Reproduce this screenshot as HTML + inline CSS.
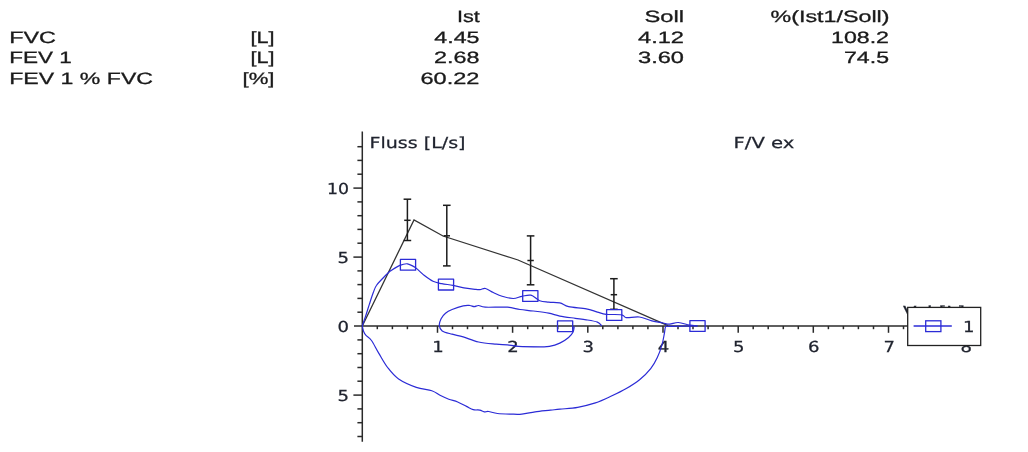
<!DOCTYPE html>
<html><head><meta charset="utf-8"><title>F/V ex</title>
<style>
html,body{margin:0;padding:0;background:#fff;}
body{width:1028px;height:452px;position:relative;overflow:hidden;font-family:"Liberation Sans",sans-serif;}
</style></head><body>
<svg width="1028" height="452" viewBox="0 0 1028 452" style="position:absolute;left:0;top:0;filter:blur(0.35px)">
<rect x="0" y="0" width="1028" height="452" fill="#fff"/>
<text x="9.2" y="42.8" font-family="Liberation Sans, Arial, sans-serif" font-size="16.4" text-rendering="geometricPrecision" fill="#1a1a1a" stroke="#1a1a1a" stroke-width="0.3" text-anchor="start" textLength="46.8" lengthAdjust="spacingAndGlyphs">FVC</text>
<text x="9.2" y="63.2" font-family="Liberation Sans, Arial, sans-serif" font-size="16.4" text-rendering="geometricPrecision" fill="#1a1a1a" stroke="#1a1a1a" stroke-width="0.3" text-anchor="start" textLength="62.6" lengthAdjust="spacingAndGlyphs">FEV 1</text>
<text x="9.2" y="83.6" font-family="Liberation Sans, Arial, sans-serif" font-size="16.4" text-rendering="geometricPrecision" fill="#1a1a1a" stroke="#1a1a1a" stroke-width="0.3" text-anchor="start" textLength="143.8" lengthAdjust="spacingAndGlyphs">FEV 1 % FVC</text>
<text x="274.5" y="42.8" font-family="Liberation Sans, Arial, sans-serif" font-size="16.4" text-rendering="geometricPrecision" fill="#1a1a1a" stroke="#1a1a1a" stroke-width="0.3" text-anchor="end" textLength="24" lengthAdjust="spacingAndGlyphs">[L]</text>
<text x="274.5" y="63.2" font-family="Liberation Sans, Arial, sans-serif" font-size="16.4" text-rendering="geometricPrecision" fill="#1a1a1a" stroke="#1a1a1a" stroke-width="0.3" text-anchor="end" textLength="24" lengthAdjust="spacingAndGlyphs">[L]</text>
<text x="274.5" y="83.6" font-family="Liberation Sans, Arial, sans-serif" font-size="16.4" text-rendering="geometricPrecision" fill="#1a1a1a" stroke="#1a1a1a" stroke-width="0.3" text-anchor="end" textLength="32" lengthAdjust="spacingAndGlyphs">[%]</text>
<text x="479.8" y="22.2" font-family="Liberation Sans, Arial, sans-serif" font-size="16.4" text-rendering="geometricPrecision" fill="#1a1a1a" stroke="#1a1a1a" stroke-width="0.3" text-anchor="end" textLength="22.8" lengthAdjust="spacingAndGlyphs">Ist</text>
<text x="479.5" y="42.8" font-family="Liberation Sans, Arial, sans-serif" font-size="16.4" text-rendering="geometricPrecision" fill="#1a1a1a" stroke="#1a1a1a" stroke-width="0.3" text-anchor="end" textLength="45.2" lengthAdjust="spacingAndGlyphs">4.45</text>
<text x="479.5" y="63.2" font-family="Liberation Sans, Arial, sans-serif" font-size="16.4" text-rendering="geometricPrecision" fill="#1a1a1a" stroke="#1a1a1a" stroke-width="0.3" text-anchor="end" textLength="45.4" lengthAdjust="spacingAndGlyphs">2.68</text>
<text x="479.5" y="83.6" font-family="Liberation Sans, Arial, sans-serif" font-size="16.4" text-rendering="geometricPrecision" fill="#1a1a1a" stroke="#1a1a1a" stroke-width="0.3" text-anchor="end" textLength="59" lengthAdjust="spacingAndGlyphs">60.22</text>
<text x="684" y="22.2" font-family="Liberation Sans, Arial, sans-serif" font-size="16.4" text-rendering="geometricPrecision" fill="#1a1a1a" stroke="#1a1a1a" stroke-width="0.3" text-anchor="end" textLength="39.5" lengthAdjust="spacingAndGlyphs">Soll</text>
<text x="684" y="42.8" font-family="Liberation Sans, Arial, sans-serif" font-size="16.4" text-rendering="geometricPrecision" fill="#1a1a1a" stroke="#1a1a1a" stroke-width="0.3" text-anchor="end" textLength="46" lengthAdjust="spacingAndGlyphs">4.12</text>
<text x="684" y="63.2" font-family="Liberation Sans, Arial, sans-serif" font-size="16.4" text-rendering="geometricPrecision" fill="#1a1a1a" stroke="#1a1a1a" stroke-width="0.3" text-anchor="end" textLength="46" lengthAdjust="spacingAndGlyphs">3.60</text>
<text x="889.5" y="22.2" font-family="Liberation Sans, Arial, sans-serif" font-size="16.4" text-rendering="geometricPrecision" fill="#1a1a1a" stroke="#1a1a1a" stroke-width="0.3" text-anchor="end" textLength="119" lengthAdjust="spacingAndGlyphs">%(Ist1/Soll)</text>
<text x="889" y="42.8" font-family="Liberation Sans, Arial, sans-serif" font-size="16.4" text-rendering="geometricPrecision" fill="#1a1a1a" stroke="#1a1a1a" stroke-width="0.3" text-anchor="end" textLength="58" lengthAdjust="spacingAndGlyphs">108.2</text>
<text x="889" y="63.2" font-family="Liberation Sans, Arial, sans-serif" font-size="16.4" text-rendering="geometricPrecision" fill="#1a1a1a" stroke="#1a1a1a" stroke-width="0.3" text-anchor="end" textLength="45" lengthAdjust="spacingAndGlyphs">74.5</text>
<g stroke="#2a2a2a" stroke-width="1.5" fill="none">
<line x1="362.3" y1="131.5" x2="362.3" y2="441.7"/>
<line x1="354" y1="326.05" x2="908" y2="326.05"/>
<line x1="357.4" y1="436.5" x2="362.3" y2="436.5"/>
<line x1="357.4" y1="422.7" x2="362.3" y2="422.7"/>
<line x1="357.4" y1="408.9" x2="362.3" y2="408.9"/>
<line x1="353.4" y1="395.1" x2="362.3" y2="395.1"/>
<line x1="357.4" y1="381.2" x2="362.3" y2="381.2"/>
<line x1="357.4" y1="367.5" x2="362.3" y2="367.5"/>
<line x1="357.4" y1="353.7" x2="362.3" y2="353.7"/>
<line x1="357.4" y1="339.9" x2="362.3" y2="339.9"/>
<line x1="357.4" y1="312.2" x2="362.3" y2="312.2"/>
<line x1="357.4" y1="298.4" x2="362.3" y2="298.4"/>
<line x1="357.4" y1="284.6" x2="362.3" y2="284.6"/>
<line x1="357.4" y1="270.9" x2="362.3" y2="270.9"/>
<line x1="353.4" y1="257.1" x2="362.3" y2="257.1"/>
<line x1="357.4" y1="243.2" x2="362.3" y2="243.2"/>
<line x1="357.4" y1="229.4" x2="362.3" y2="229.4"/>
<line x1="357.4" y1="215.7" x2="362.3" y2="215.7"/>
<line x1="357.4" y1="201.9" x2="362.3" y2="201.9"/>
<line x1="353.4" y1="188.1" x2="362.3" y2="188.1"/>
<line x1="357.4" y1="174.2" x2="362.3" y2="174.2"/>
<line x1="357.4" y1="160.4" x2="362.3" y2="160.4"/>
<line x1="357.4" y1="146.7" x2="362.3" y2="146.7"/>
<line x1="377.3" y1="326.05" x2="377.3" y2="329.2"/>
<line x1="392.4" y1="326.05" x2="392.4" y2="329.2"/>
<line x1="407.4" y1="326.05" x2="407.4" y2="329.2"/>
<line x1="422.4" y1="326.05" x2="422.4" y2="329.2"/>
<line x1="437.5" y1="326.05" x2="437.5" y2="332.8"/>
<line x1="452.5" y1="326.05" x2="452.5" y2="329.2"/>
<line x1="467.5" y1="326.05" x2="467.5" y2="329.2"/>
<line x1="482.6" y1="326.05" x2="482.6" y2="329.2"/>
<line x1="497.6" y1="326.05" x2="497.6" y2="329.2"/>
<line x1="512.6" y1="326.05" x2="512.6" y2="332.8"/>
<line x1="527.7" y1="326.05" x2="527.7" y2="329.2"/>
<line x1="542.7" y1="326.05" x2="542.7" y2="329.2"/>
<line x1="557.7" y1="326.05" x2="557.7" y2="329.2"/>
<line x1="572.8" y1="326.05" x2="572.8" y2="329.2"/>
<line x1="587.8" y1="326.05" x2="587.8" y2="332.8"/>
<line x1="602.8" y1="326.05" x2="602.8" y2="329.2"/>
<line x1="617.9" y1="326.05" x2="617.9" y2="329.2"/>
<line x1="632.9" y1="326.05" x2="632.9" y2="329.2"/>
<line x1="647.9" y1="326.05" x2="647.9" y2="329.2"/>
<line x1="663.0" y1="326.05" x2="663.0" y2="332.8"/>
<line x1="678.0" y1="326.05" x2="678.0" y2="329.2"/>
<line x1="693.0" y1="326.05" x2="693.0" y2="329.2"/>
<line x1="708.1" y1="326.05" x2="708.1" y2="329.2"/>
<line x1="723.1" y1="326.05" x2="723.1" y2="329.2"/>
<line x1="738.2" y1="326.05" x2="738.2" y2="332.8"/>
<line x1="753.2" y1="326.05" x2="753.2" y2="329.2"/>
<line x1="768.2" y1="326.05" x2="768.2" y2="329.2"/>
<line x1="783.3" y1="326.05" x2="783.3" y2="329.2"/>
<line x1="798.3" y1="326.05" x2="798.3" y2="329.2"/>
<line x1="813.3" y1="326.05" x2="813.3" y2="332.8"/>
<line x1="828.4" y1="326.05" x2="828.4" y2="329.2"/>
<line x1="843.4" y1="326.05" x2="843.4" y2="329.2"/>
<line x1="858.4" y1="326.05" x2="858.4" y2="329.2"/>
<line x1="873.5" y1="326.05" x2="873.5" y2="329.2"/>
<line x1="888.5" y1="326.05" x2="888.5" y2="332.8"/>
<line x1="903.5" y1="326.05" x2="903.5" y2="329.2"/>
</g>
<text x="369.5" y="147.7" font-family="DejaVu Sans, Verdana, sans-serif" font-size="15.2" text-rendering="geometricPrecision" fill="#20242f" stroke="#20242f" stroke-width="0.25" text-anchor="start" textLength="96" lengthAdjust="spacingAndGlyphs">Fluss [L/s]</text>
<text x="733.5" y="147.7" font-family="DejaVu Sans, Verdana, sans-serif" font-size="15.2" text-rendering="geometricPrecision" fill="#20242f" stroke="#20242f" stroke-width="0.25" text-anchor="start" textLength="61" lengthAdjust="spacingAndGlyphs">F/V ex</text>
<text x="349" y="194.4" font-family="DejaVu Sans, Verdana, sans-serif" font-size="15.2" text-rendering="geometricPrecision" fill="#20242f" stroke="#20242f" stroke-width="0.25" text-anchor="end" textLength="22" lengthAdjust="spacingAndGlyphs">10</text>
<text x="349" y="262.6" font-family="DejaVu Sans, Verdana, sans-serif" font-size="15.2" text-rendering="geometricPrecision" fill="#20242f" stroke="#20242f" stroke-width="0.25" text-anchor="end" textLength="11.5" lengthAdjust="spacingAndGlyphs">5</text>
<text x="349" y="331.5" font-family="DejaVu Sans, Verdana, sans-serif" font-size="15.2" text-rendering="geometricPrecision" fill="#20242f" stroke="#20242f" stroke-width="0.25" text-anchor="end" textLength="11.5" lengthAdjust="spacingAndGlyphs">0</text>
<text x="349" y="401.3" font-family="DejaVu Sans, Verdana, sans-serif" font-size="15.2" text-rendering="geometricPrecision" fill="#20242f" stroke="#20242f" stroke-width="0.25" text-anchor="end" textLength="11.5" lengthAdjust="spacingAndGlyphs">5</text>
<text x="437.97" y="351.8" font-family="DejaVu Sans, Verdana, sans-serif" font-size="15.2" text-rendering="geometricPrecision" fill="#20242f" stroke="#20242f" stroke-width="0.25" text-anchor="middle" textLength="11.5" lengthAdjust="spacingAndGlyphs">1</text>
<text x="513.14" y="351.8" font-family="DejaVu Sans, Verdana, sans-serif" font-size="15.2" text-rendering="geometricPrecision" fill="#20242f" stroke="#20242f" stroke-width="0.25" text-anchor="middle" textLength="11.5" lengthAdjust="spacingAndGlyphs">2</text>
<text x="588.31" y="351.8" font-family="DejaVu Sans, Verdana, sans-serif" font-size="15.2" text-rendering="geometricPrecision" fill="#20242f" stroke="#20242f" stroke-width="0.25" text-anchor="middle" textLength="11.5" lengthAdjust="spacingAndGlyphs">3</text>
<text x="663.48" y="351.8" font-family="DejaVu Sans, Verdana, sans-serif" font-size="15.2" text-rendering="geometricPrecision" fill="#20242f" stroke="#20242f" stroke-width="0.25" text-anchor="middle" textLength="11.5" lengthAdjust="spacingAndGlyphs">4</text>
<text x="738.6500000000001" y="351.8" font-family="DejaVu Sans, Verdana, sans-serif" font-size="15.2" text-rendering="geometricPrecision" fill="#20242f" stroke="#20242f" stroke-width="0.25" text-anchor="middle" textLength="11.5" lengthAdjust="spacingAndGlyphs">5</text>
<text x="813.8199999999999" y="351.8" font-family="DejaVu Sans, Verdana, sans-serif" font-size="15.2" text-rendering="geometricPrecision" fill="#20242f" stroke="#20242f" stroke-width="0.25" text-anchor="middle" textLength="11.5" lengthAdjust="spacingAndGlyphs">6</text>
<text x="889.29" y="351.8" font-family="DejaVu Sans, Verdana, sans-serif" font-size="15.2" text-rendering="geometricPrecision" fill="#20242f" stroke="#20242f" stroke-width="0.25" text-anchor="middle" textLength="11.5" lengthAdjust="spacingAndGlyphs">7</text>
<text x="966.3600000000001" y="351.8" font-family="DejaVu Sans, Verdana, sans-serif" font-size="15.2" text-rendering="geometricPrecision" fill="#20242f" stroke="#20242f" stroke-width="0.25" text-anchor="middle" textLength="11.5" lengthAdjust="spacingAndGlyphs">8</text>
<text x="903" y="317.3" font-family="DejaVu Sans, Verdana, sans-serif" font-size="15.2" text-rendering="geometricPrecision" fill="#20242f" stroke="#20242f" stroke-width="0.25" text-anchor="start" textLength="62" lengthAdjust="spacingAndGlyphs">Vol [L]</text>
<polyline points="362.3,326.0 414.0,220.0 443.0,236.0 518.0,260.0 668.0,325.6" fill="none" stroke="#333" stroke-width="1.3"/>
<g stroke="#1c1c1c" stroke-width="1.5" fill="none">
<line x1="407.4" y1="199.2" x2="407.4" y2="240.5"/>
<line x1="403.59999999999997" y1="199.2" x2="411.2" y2="199.2"/>
<line x1="403.59999999999997" y1="240.5" x2="411.2" y2="240.5"/>
<line x1="404.2" y1="220.3" x2="410.59999999999997" y2="220.3"/>
<line x1="446.8" y1="205.3" x2="446.8" y2="265.9"/>
<line x1="443.0" y1="205.3" x2="450.6" y2="205.3"/>
<line x1="443.0" y1="265.9" x2="450.6" y2="265.9"/>
<line x1="443.6" y1="235.8" x2="450.0" y2="235.8"/>
<line x1="530.6" y1="235.9" x2="530.6" y2="284.8"/>
<line x1="526.8000000000001" y1="235.9" x2="534.4" y2="235.9"/>
<line x1="526.8000000000001" y1="284.8" x2="534.4" y2="284.8"/>
<line x1="527.4" y1="260.5" x2="533.8000000000001" y2="260.5"/>
<line x1="613.9" y1="278.7" x2="613.9" y2="309.3"/>
<line x1="610.1" y1="278.7" x2="617.6999999999999" y2="278.7"/>
<line x1="610.1" y1="309.3" x2="617.6999999999999" y2="309.3"/>
<line x1="610.6999999999999" y1="294.7" x2="617.1" y2="294.7"/>
</g>
<g stroke="#2b2bd6" stroke-width="1.2" fill="none" stroke-linejoin="round">
<path d="M362.3,326.0C362.8,324.4 364.3,320.1 365.5,316.5C366.7,312.9 368.1,308.1 369.4,304.1C370.7,300.1 372.1,295.6 373.3,292.5C374.5,289.4 374.8,287.8 376.4,285.5C377.9,283.2 380.5,280.7 382.6,278.5C384.7,276.3 387.3,273.7 388.8,272.3C390.3,270.9 389.7,271.5 391.5,270.3C393.3,269.1 397.1,266.5 399.8,265.4C402.5,264.3 404.9,263.4 407.5,263.8C410.1,264.2 412.5,265.7 415.3,267.6C418.1,269.5 421.2,273.0 424.1,275.3C427.1,277.6 430.1,279.9 433.0,281.3C435.9,282.7 438.5,283.0 441.8,283.7C445.1,284.4 449.2,284.6 452.9,285.3C456.6,286.0 460.2,287.2 463.9,287.9C467.6,288.6 472.3,289.0 475.0,289.3C477.7,289.6 478.2,289.7 480.0,289.6C481.8,289.5 483.3,288.0 485.5,288.5C487.7,289.0 490.5,291.2 493.3,292.5C496.1,293.8 498.8,295.3 502.1,296.3C505.4,297.3 509.9,298.5 513.2,298.5C516.5,298.5 519.0,296.9 522.0,296.3C525.0,295.8 527.9,294.5 530.9,295.2C533.9,295.9 536.7,299.5 539.7,300.7C542.7,301.9 545.4,301.8 548.7,302.2C552.1,302.6 556.5,302.1 559.8,302.8C563.1,303.5 564.2,305.6 568.6,306.6C573.0,307.6 581.5,307.9 586.3,308.8C591.1,309.7 594.1,311.2 597.4,312.1C600.7,313.0 602.2,313.9 606.2,314.3C610.2,314.8 618.4,314.2 621.7,314.8C625.0,315.4 623.2,317.2 626.1,317.6C629.0,318.0 635.1,316.5 639.4,317.0C643.7,317.5 648.0,319.8 651.9,320.8C655.8,321.8 660.0,322.4 663.0,323.0C666.0,323.6 667.0,324.2 669.6,324.1C672.2,324.0 675.1,322.3 678.4,322.5C681.7,322.7 686.3,324.6 689.5,325.2C692.7,325.8 696.2,325.7 697.5,325.8"/>
<path d="M697.5,326.0C692.9,326.1 675.3,326.2 670.0,326.3C664.7,326.4 666.6,325.3 665.7,326.5C664.8,327.7 665.0,330.3 664.4,333.3C663.8,336.3 663.3,340.2 662.1,344.3C660.9,348.4 659.2,353.6 657.3,357.6C655.4,361.7 653.7,364.9 650.7,368.6C647.8,372.3 643.7,376.4 639.6,379.7C635.5,383.0 631.1,385.7 626.3,388.5C621.5,391.3 616.0,393.9 610.9,396.3C605.8,398.7 600.9,401.1 595.4,402.9C589.9,404.7 583.6,406.2 577.7,407.3C571.8,408.4 564.5,408.7 560.0,409.2C555.5,409.7 554.6,409.7 550.5,410.1C546.4,410.6 539.9,411.2 535.1,411.9C530.3,412.6 525.9,413.7 521.8,414.1C517.7,414.5 514.8,414.2 510.7,414.1C506.6,414.0 501.2,413.9 497.5,413.5C493.8,413.1 490.8,411.8 488.6,411.5C486.4,411.2 485.7,412.1 484.2,411.9C482.7,411.7 481.6,410.5 479.8,410.1C478.0,409.7 475.4,410.3 473.2,409.7C471.0,409.1 469.1,407.7 466.5,406.4C463.9,405.1 460.6,403.2 457.7,402.0C454.8,400.8 451.8,400.3 448.8,399.2C445.9,398.1 442.8,396.7 440.0,395.3C437.2,393.9 435.8,392.0 431.8,390.7C427.9,389.4 421.8,389.3 416.3,387.4C410.8,385.4 403.4,382.3 398.6,379.0C393.8,375.7 390.9,371.8 387.6,367.5C384.3,363.2 381.4,357.6 378.7,353.1C376.0,348.6 373.6,343.5 371.5,340.5C369.4,337.5 367.1,336.7 365.8,335.2C364.5,333.7 364.2,332.9 363.6,331.4C363.0,329.9 362.5,327.1 362.3,326.2"/>
<path d="M601.8,326.0C601.1,325.4 600.0,323.1 597.4,322.1C594.8,321.1 590.0,320.4 586.3,319.8C582.6,319.2 579.7,318.9 575.3,318.3C570.9,317.7 564.2,317.0 559.8,316.1C555.4,315.2 553.1,314.1 548.7,313.2C544.3,312.3 538.1,311.6 533.3,311.0C528.5,310.4 524.3,310.1 520.0,309.5C515.7,308.9 513.2,307.6 507.4,307.2C501.6,306.8 490.1,307.5 485.3,307.2C480.5,306.9 480.5,305.6 478.6,305.5C476.8,305.4 475.7,306.6 474.2,306.6C472.7,306.6 471.6,305.6 469.8,305.5C468.0,305.4 466.1,305.2 463.2,305.9C460.2,306.6 455.1,308.3 452.1,309.5C449.2,310.7 447.3,311.7 445.5,313.2C443.7,314.7 442.1,316.7 441.1,318.7C440.1,320.7 439.1,323.4 439.3,325.4C439.5,327.4 440.1,329.4 442.2,330.9C444.3,332.4 448.6,333.2 452.1,334.2C455.6,335.2 458.8,335.6 463.2,336.9C467.6,338.2 473.1,340.8 478.6,342.0C484.1,343.2 491.5,343.7 496.3,344.2C501.1,344.7 503.7,344.4 507.4,344.8C511.1,345.2 512.9,346.1 518.4,346.4C523.9,346.7 535.3,346.8 540.5,346.8C545.7,346.8 546.2,347.0 549.4,346.4C552.6,345.8 556.6,344.6 559.8,343.1C563.0,341.6 566.4,339.4 568.6,337.5C570.8,335.6 572.2,333.8 573.1,332.0C574.0,330.2 574.0,327.4 574.2,326.5"/>
<rect x="400.4" y="259.4" width="15.2" height="10.8" stroke-width="1.3"/>
<rect x="438.4" y="279.2" width="15.2" height="10.8" stroke-width="1.3"/>
<rect x="522.7" y="290.6" width="15.2" height="10.8" stroke-width="1.3"/>
<rect x="606.6" y="309.6" width="15.2" height="10.8" stroke-width="1.3"/>
<rect x="689.9" y="320.6" width="15.2" height="10.8" stroke-width="1.3"/>
<rect x="557.5" y="320.8" width="15.2" height="10.8" stroke-width="1.3"/>
</g>
<rect x="907.7" y="307.4" width="73" height="38.1" fill="#fff" stroke="#222" stroke-width="1.3"/>
<line x1="913.6" y1="326" x2="951.8" y2="326" stroke="#2b2bd6" stroke-width="1.3"/>
<rect x="925.7" y="320.8" width="15.2" height="10.8" fill="none" stroke="#2b2bd6" stroke-width="1.3"/>
<text x="963" y="332.3" font-family="DejaVu Sans, Verdana, sans-serif" font-size="15.2" text-rendering="geometricPrecision" fill="#20242f" stroke="#20242f" stroke-width="0.25" text-anchor="start" textLength="11.5" lengthAdjust="spacingAndGlyphs">1</text>
</svg>
</body></html>
